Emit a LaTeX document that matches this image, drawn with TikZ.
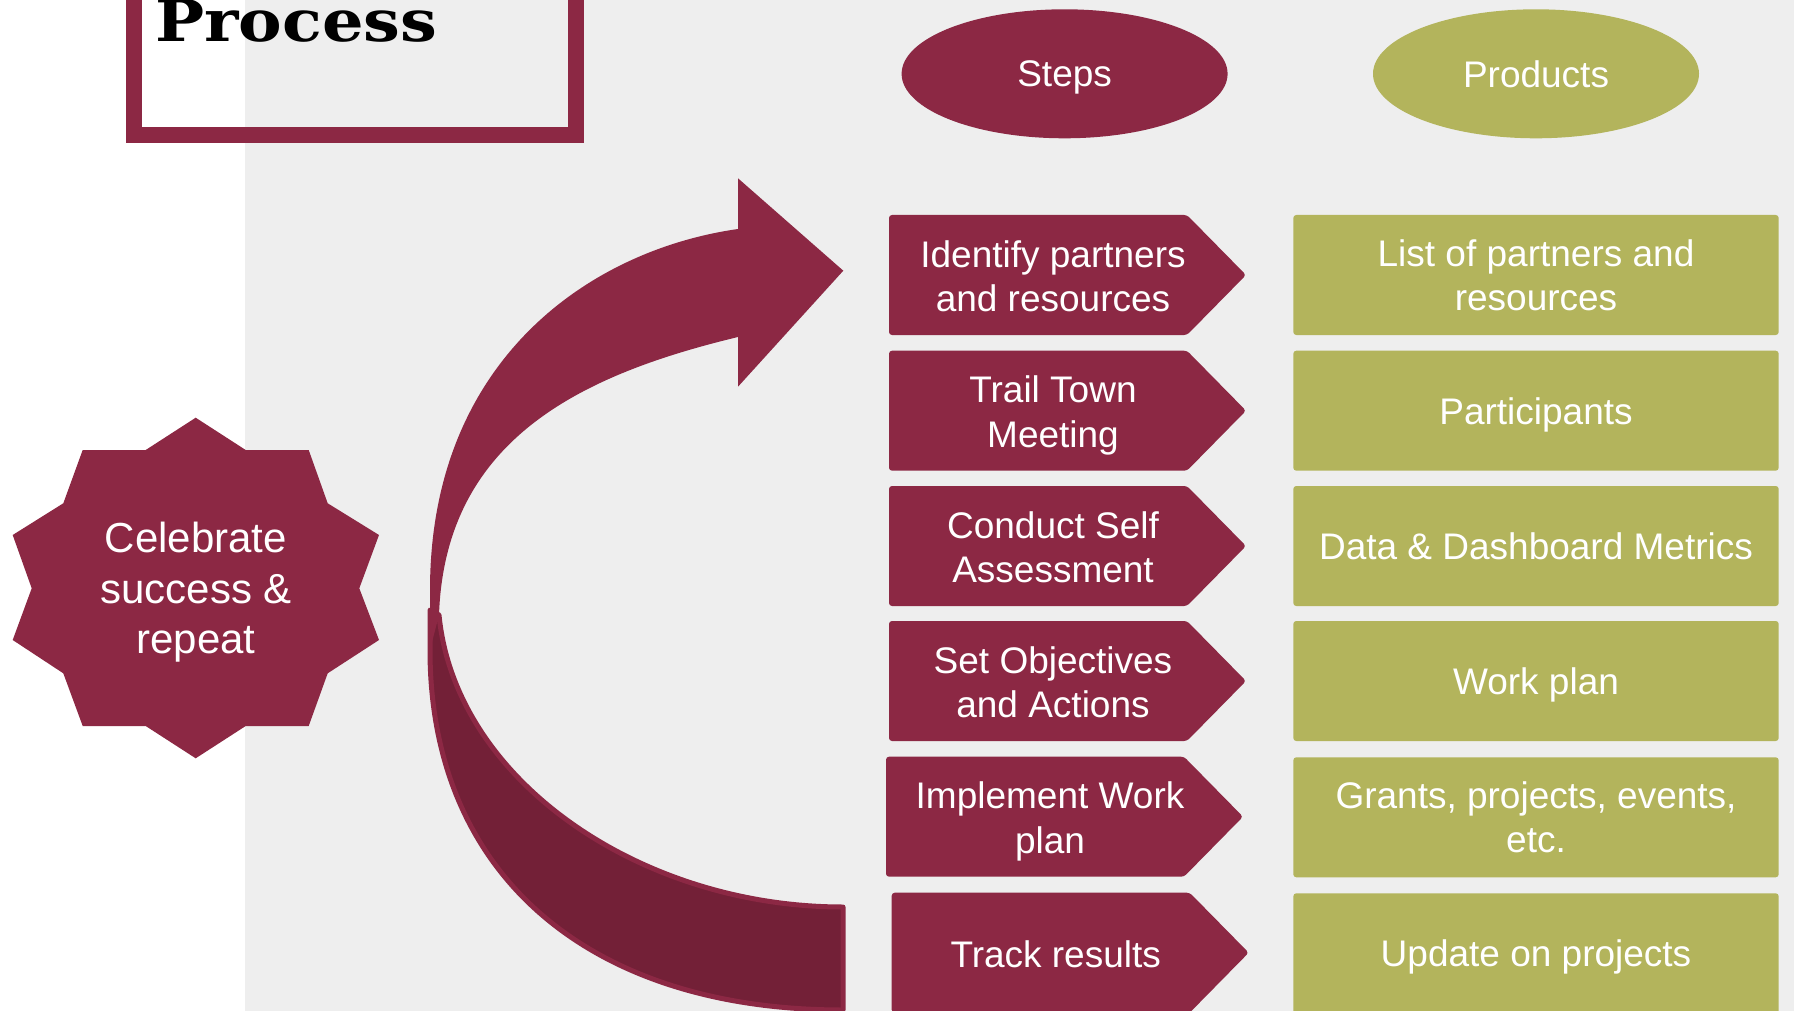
\documentclass[tikz,border=0pt]{standalone}
\usepackage{fontspec}
\usepackage{graphicx}
\setmainfont{Liberation Sans}
\newfontfamily\titlefont{DejaVu Serif}
\usetikzlibrary{shapes.geometric}
\definecolor{crimson}{RGB}{140,40,68}
\definecolor{darkcrim}{RGB}{115,32,55}
\definecolor{olive}{RGB}{179,180,92}
\definecolor{bggray}{RGB}{238,238,238}
\newcommand\nod[1]{\raisebox{0pt}[\height][0pt]{#1}}
\newcommand\stepshape[2]{%
  \fill[stepfill] (#1,#2) -- (#1+298,#2) -- (#1+357,#2+60) -- (#1+298,#2+120) -- (#1,#2+120) -- cycle;}
\begin{document}
\begin{tikzpicture}[x=1pt,y=-1pt,
  txt/.style={text=white, align=center, font=\fontsize{37}{44.5}\selectfont, inner sep=0pt},
  prodbox/.style={txt, fill=olive, rounded corners=3pt, minimum width=485.4pt, minimum height=120pt},
  stepfill/.style={fill=crimson, rounded corners=3pt},
  oval/.style={txt, ellipse, minimum width=326pt, minimum height=129pt}]
\useasboundingbox (0,0) rectangle (1794,1011);
\clip (0,0) rectangle (1794,1011);
\fill[bggray] (0,0) rectangle (1794,1011);
\fill[white] (0,0) rectangle (245,1011);

% title box
\draw[crimson, line width=16pt] (133.5,-40) rectangle (576,135);
\node[anchor=base west, inner sep=0pt] (title) at (155,42) {\resizebox{282pt}{42pt}{\titlefont\bfseries Process}};

% header ovals
\node[oval, fill=crimson] (steps) at (1064.6,73.8) {\nod{Steps}};
\node[oval, fill=olive] (products) at (1536,73.8) {\nod{Products}};

% star
\fill[crimson] (195.7,417.7) -- (245.7,450) -- (308.7,450) -- (327.7,503.3) -- (379,535)
  -- (359.3,588.3) -- (379,640) -- (327.7,673.3) -- (308.7,726) -- (245.7,726)
  -- (195.7,758.3) -- (145.7,726) -- (82.7,726) -- (63.3,673.3) -- (12.7,640)
  -- (31.7,588.3) -- (12.7,535) -- (63.3,503.3) -- (82.7,450) -- (145.7,450) -- cycle;
\node[txt, font=\fontsize{42}{50.7}\selectfont] (celebrate) at (196,588) {Celebrate\\success \&\\\nod{repeat}};

% curved ribbon arrow: back (dark) part
\filldraw[fill=darkcrim, draw=crimson, line width=5pt, line join=round]
  (439,615) .. controls (455,780) and (640,907) .. (843,907)
  -- (843,1010) .. controls (587,1010) and (430,873) .. (430,650) -- (430,610) -- cycle;
% front part with head
\fill[crimson, line join=round]
  (430,650) -- (430,590) .. controls (430,360) and (590,250) .. (738,229)
  -- (738,178.3) -- (843.3,270.7) -- (738,386.7) -- (738,337)
  .. controls (580,375) and (445,440) .. (439,615) -- cycle;

% step boxes
\stepshape{889}{215}
\node[txt] (s1) at (1053,276) {Identify partners\\\nod{and resources}};
\stepshape{889}{350.7}
\node[txt] (s2) at (1053,411.7) {Trail Town\\\nod{Meeting}};
\stepshape{889}{486}
\node[txt] (s3) at (1053,547) {Conduct Self\\\nod{Assessment}};
\stepshape{889}{621}
\node[txt] (s4) at (1053,682) {Set Objectives\\\nod{and Actions}};
\stepshape{886}{756.7}
\node[txt] (s5) at (1050,817.7) {Implement Work\\\nod{plan}};
\stepshape{891.7}{892.7}
\node[txt] (s6) at (1055.7,953.7) {\nod{Track results}};

% product boxes
\node[prodbox] (p1) at (1536,275) {List of partners and\\\nod{resources}};
\node[prodbox] (p2) at (1536,410.7) {\nod{Participants}};
\node[prodbox] (p3) at (1536,546) {\nod{Data \& Dashboard Metrics}};
\node[prodbox] (p4) at (1536,681) {\nod{Work plan}};
\node[prodbox] (p5) at (1536,817.3) {Grants, projects, events,\\\nod{etc.}};
\node[prodbox] (p6) at (1536,953.3) {\nod{Update on projects}};
\end{tikzpicture}
\end{document}
